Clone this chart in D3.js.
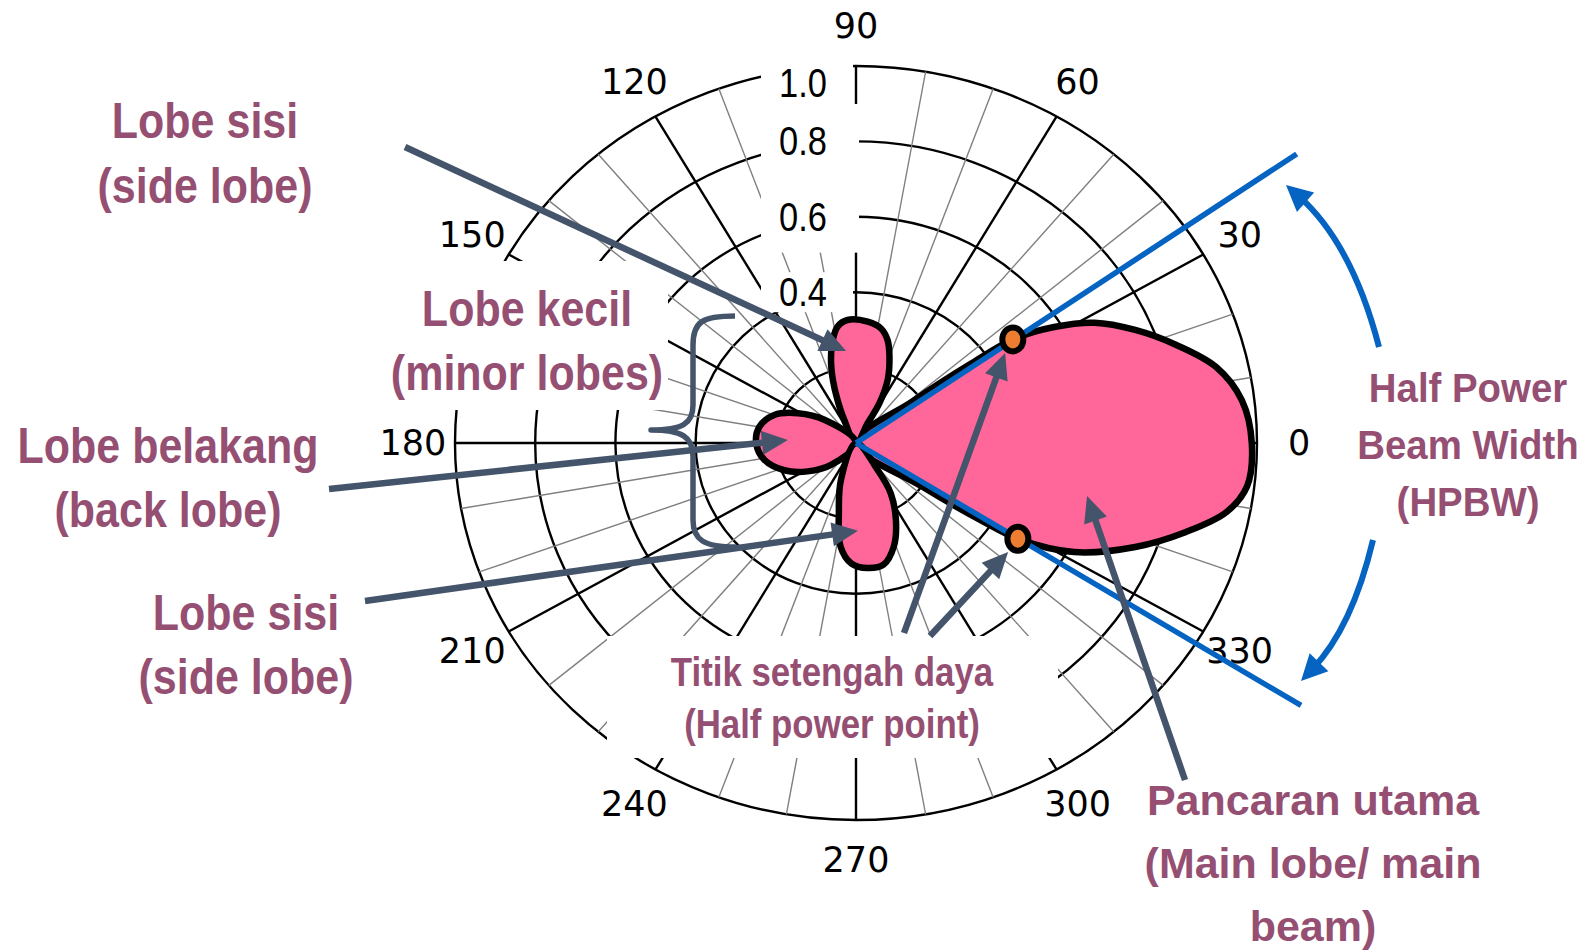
<!DOCTYPE html>
<html lang="en">
<head>
<meta charset="UTF-8">
<title>Pola radiasi antena</title>
<script src="https://cdn.jsdelivr.net/npm/d3@7"></script>
<style>
  html, body { margin: 0; padding: 0; background: #fff; }
  svg { display: block; }
</style>
</head>
<body>
<div id="chart"></div>
<script>
// ---- data ----
const ringValues = [0.2, 0.4, 0.6, 0.8, 1.0];
const radialTickValues = [0.4, 0.6, 0.8, 1.0];
const radialTickLabels = ["0.4", "0.6", "0.8", "1.0"];
const angleTicks = d3.range(0, 360, 30);
const spokeAngles = d3.range(0, 360, 10);

// lobe outlines: angle (deg) and relative field, each starts at the origin
const mainLobeDeg = [0, -35, -33.3, -32.2, -28, -21.6, -16, -11.2, -6.7, 0, 6.7, 12.6, 18.1, 23.3, 28.2, 31.9, 35.1, 36.3, 38];
const mainLobeR   = [0, 0.2, 0.38, 0.477, 0.616, 0.749, 0.856, 0.942, 0.982, 0.987, 0.969, 0.921, 0.839, 0.758, 0.675, 0.582, 0.478, 0.35, 0.18];

const sideUpDeg = [0, 61, 61, 64.7, 70, 73.9, 78.4, 84.8, 93.7, 98.5, 102, 105.8, 109, 112, 115.6];
const sideUpR   = [0, 0.06, 0.12, 0.185, 0.244, 0.284, 0.31, 0.323, 0.327, 0.312, 0.279, 0.229, 0.177, 0.123, 0.068];

const backDeg = [0, 142, 151.4, 160, 170, 180, 191, 202, 212, 223];
const backR   = [0, 0.1, 0.165, 0.217, 0.245, 0.249, 0.233, 0.193, 0.142, 0.085];

const sideDownDeg = [0, 249, 257, 262, 268, 275, 282, 289, 296, 303, 307];
const sideDownR   = [0, 0.105, 0.19, 0.277, 0.32, 0.333, 0.33, 0.29, 0.227, 0.159, 0.089];

// half power points and beam-width lines
const hpDeg = [35.1, -32.2];
const hpR = [0.478, 0.477];
const beamDeg = [34.9, -32.1];
const beamLen = [1.34, 1.31];

// label texts
const noteLines = [
  ["Lobe sisi", "(side lobe)"],
  ["Lobe kecil", "(minor lobes)"],
  ["Lobe belakang", "(back lobe)"],
  ["Lobe sisi", "(side lobe)"],
  ["Titik setengah daya", "(Half power point)"],
  ["Half Power", "Beam Width", "(HPBW)"],
  ["Pancaran utama", "(Main lobe/ main", "beam)"]
];
// where each annotation arrow points to (deg, relative field)
const pointerDeg = [95.8, 177.3, 271.2, 32.7, -37.3, -13.7];
const pointerR   = [0.245, 0.17, 0.233, 0.442, 0.477, 0.593];

// ---- layout ----
const W = 1588, H = 952;
const cx = 856, cy = 443;
const textColor = "#954F72", arrowColor = "#44546A", blue = "#0563C1";

const noteLayout = [
  {x: 205, y: 138, gap: 65, size: 50, sx: 0.86},
  {x: 527, y: 326, gap: 64, size: 50, sx: 0.86},
  {x: 168, y: 463, gap: 64, size: 50, sx: 0.86},
  {x: 246, y: 630, gap: 64, size: 50, sx: 0.86},
  {x: 832, y: 686, gap: 52, size: 40, sx: 0.87},
  {x: 1468, y: 402, gap: 57, size: 40, sx: 0.96},
  {x: 1313, y: 815, gap: 63, size: 43, sx: 1}
];
const pointerStart = [[405, 147], [329, 489], [365, 601], [904, 633], [930, 636], [1185, 780]];

const sx = d3.scaleLinear().domain([0, 1]).range([0, 401]);
const sy = d3.scaleLinear().domain([0, 1]).range([0, 377]);
const rad = d => d * Math.PI / 180;
const px = (deg, r) => cx + sx(r) * Math.cos(rad(deg));
const py = (deg, r) => cy - sy(r) * Math.sin(rad(deg));

const svg = d3.select("#chart").append("svg")
  .attr("width", W).attr("height", H)
  .style("font-family", "'Liberation Sans', Arial, sans-serif");

// ---- grid ----
const grid = svg.append("g");
grid.selectAll(".ring").data(ringValues).enter().append("ellipse")
  .attr("cx", cx).attr("cy", cy)
  .attr("rx", d => sx(d)).attr("ry", d => sy(d))
  .attr("fill", "none").attr("stroke", "#000").attr("stroke-width", 2.4);

grid.selectAll(".spoke").data(spokeAngles).enter().append("line")
  .attr("x1", cx).attr("y1", cy)
  .attr("x2", d => px(d, 1)).attr("y2", d => py(d, 1))
  .attr("stroke", d => d % 30 === 0 ? "#000" : "#7f7f7f")
  .attr("stroke-width", d => d % 30 === 0 ? 2.4 : 1.4);

// white boxes behind labels hide the grid
const yTop = py(90, 1);
const masks = [
  [372, 261, 296, 149],
  [607, 636, 451, 122],
  [cx - 95, yTop - 6, 92, 44],
  [cx - 95, yTop + 38, 98, py(90, 0.505) - yTop - 38],
  [cx - 95, py(90, 0.4) - 20, 92, 40]
];
svg.selectAll(".mask").data(masks).enter().append("rect")
  .attr("x", d => d[0]).attr("y", d => d[1])
  .attr("width", d => d[2]).attr("height", d => d[3])
  .attr("fill", "#fff");

// angle labels
svg.selectAll(".alab").data(angleTicks).enter().append("text")
  .attr("x", d => px(d, 1.105)).attr("y", d => py(d, 1.105))
  .attr("text-anchor", "middle").attr("dominant-baseline", "central")
  .style("font-family", "'DejaVu Sans', sans-serif")
  .style("font-size", "35px")
  .text(d => d);

// radial labels
svg.selectAll(".rlab").data(radialTickValues).enter().append("text")
  .attr("transform", d => `translate(${cx - 29},${py(90, d) + (d === 1 ? 17 : 0)}) scale(0.84,1)`)
  .attr("text-anchor", "end").attr("dominant-baseline", "central")
  .style("font-size", "41px")
  .text((d, i) => radialTickLabels[i]);

// ---- radiation pattern ----
const lobeLine = d3.line()
  .x(d => px(d[0], d[1])).y(d => py(d[0], d[1]))
  .curve(d3.curveCatmullRomClosed.alpha(0.5));
const lobes = [
  d3.zip(mainLobeDeg, mainLobeR),
  d3.zip(sideUpDeg, sideUpR),
  d3.zip(backDeg, backR),
  d3.zip(sideDownDeg, sideDownR)
];
svg.selectAll(".lobe").data(lobes).enter().append("path")
  .attr("d", lobeLine)
  .attr("fill", "#FF6699").attr("stroke", "#000")
  .attr("stroke-width", 6.5).attr("stroke-linejoin", "round");

// beam width lines
svg.selectAll(".beam").data(beamDeg).enter().append("line")
  .attr("x1", cx).attr("y1", cy)
  .attr("x2", (d, i) => px(d, beamLen[i])).attr("y2", (d, i) => py(d, beamLen[i]))
  .attr("stroke", blue).attr("stroke-width", 5.5);

// half power points
svg.selectAll(".hp").data(hpDeg).enter().append("ellipse")
  .attr("cx", (d, i) => px(d, hpR[i])).attr("cy", (d, i) => py(d, hpR[i]))
  .attr("rx", 10.5).attr("ry", 12)
  .attr("fill", "#ED7D31").attr("stroke", "#000").attr("stroke-width", 6);

// ---- annotations ----
function arrowHead(g, tx, ty, ux, uy, len, wid, color) {
  const bx = tx - ux * len, by = ty - uy * len;
  g.append("path")
    .attr("d", `M${tx},${ty}L${bx - uy * wid / 2},${by + ux * wid / 2}L${bx + uy * wid / 2},${by - ux * wid / 2}Z`)
    .attr("fill", color);
}

const ann = svg.append("g");
pointerStart.forEach((s, i) => {
  const tx = px(pointerDeg[i], pointerR[i]), ty = py(pointerDeg[i], pointerR[i]);
  const L = Math.hypot(tx - s[0], ty - s[1]);
  const ux = (tx - s[0]) / L, uy = (ty - s[1]) / L;
  ann.append("line")
    .attr("x1", s[0]).attr("y1", s[1])
    .attr("x2", tx - ux * 20).attr("y2", ty - uy * 20)
    .attr("stroke", arrowColor).attr("stroke-width", 6.5);
  arrowHead(ann, tx, ty, ux, uy, 26, 24, arrowColor);
});

// curly brace for minor lobes
ann.append("path")
  .attr("d", "M735,316 C702,316 693,322 693,345 L693,405 C693,424 682,430 651,430 C682,430 693,437 693,456 L693,520 C693,540 704,547 736,547")
  .attr("fill", "none").attr("stroke", arrowColor).attr("stroke-width", 5.5)
  .attr("stroke-linejoin", "round");

// HPBW curved arrows
const arcs = [
  {s: [1379, 347], c: [1352, 243], t: [1286, 185]},
  {s: [1373, 540], c: [1352, 628], t: [1301, 681]}
];
arcs.forEach(a => {
  const L = Math.hypot(a.t[0] - a.c[0], a.t[1] - a.c[1]);
  const ux = (a.t[0] - a.c[0]) / L, uy = (a.t[1] - a.c[1]) / L;
  const ex = a.t[0] - ux * 16, ey = a.t[1] - uy * 16;
  ann.append("path")
    .attr("d", `M${a.s[0]},${a.s[1]} Q${a.c[0]},${a.c[1]} ${ex},${ey}`)
    .attr("fill", "none").attr("stroke", blue).attr("stroke-width", 6);
  arrowHead(ann, a.t[0], a.t[1], ux, uy, 26, 26, blue);
});

// text labels
noteLines.forEach((lines, i) => {
  const l = noteLayout[i];
  lines.forEach((t, j) => {
    svg.append("text")
      .attr("transform", `translate(${l.x},${l.y + j * l.gap}) scale(${l.sx},1)`)
      .attr("text-anchor", "middle")
      .style("font-size", l.size + "px")
      .style("font-weight", "bold")
      .attr("fill", textColor)
      .text(t);
  });
});
</script>
</body>
</html>
